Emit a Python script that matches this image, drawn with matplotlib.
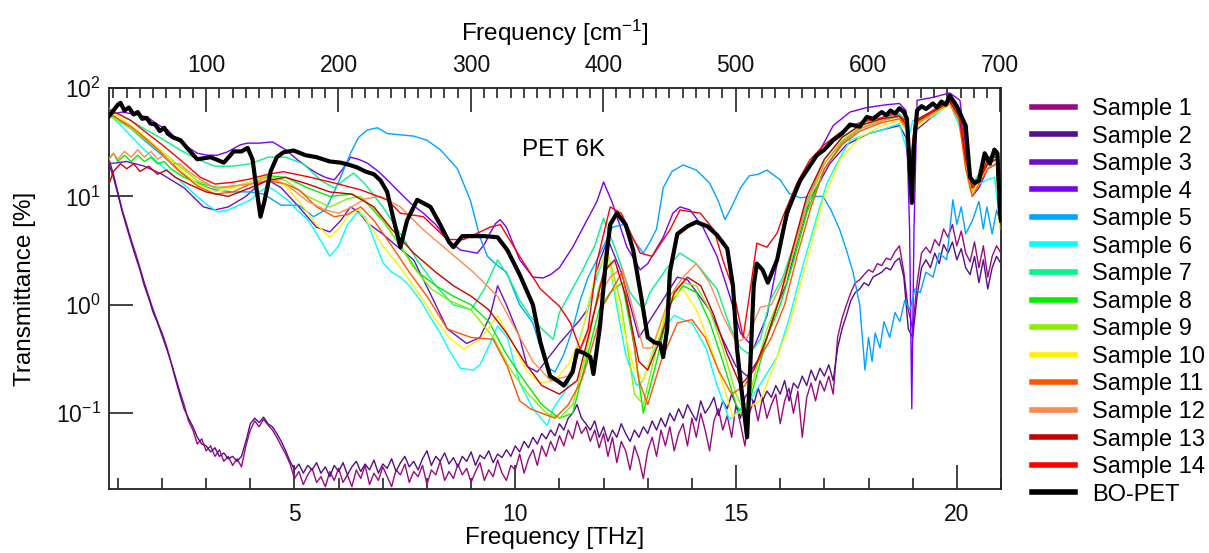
import numpy as np
import matplotlib
matplotlib.use("Agg")
import matplotlib.pyplot as plt
from matplotlib.ticker import FixedLocator, MultipleLocator, NullLocator, LogFormatterSciNotation

plt.rcParams['font.family'] = ['Liberation Sans', 'DejaVu Sans']
plt.rcParams['mathtext.fontset'] = 'custom'
plt.rcParams['mathtext.rm'] = 'Liberation Sans'
plt.rcParams['mathtext.it'] = 'Liberation Sans:italic'

# ---------------- data (frequency in THz, transmittance in %) ----------------
labels = ["Sample 1", "Sample 2", "Sample 3", "Sample 4", "Sample 5", "Sample 6",
          "Sample 7", "Sample 8", "Sample 9", "Sample 10", "Sample 11", "Sample 12",
          "Sample 13", "Sample 14", "BO-PET"]
colors = ["#9B0A7D", "#540E8E", "#6B11CB", "#7B00F2", "#00A5FF", "#00FFFF",
          "#00F58A", "#00EE00", "#88F000", "#FFF200", "#FF5500", "#FF8A50",
          "#C80000", "#FF0000", "#000000"]

# Samples 1 and 2: sampled every 0.1 THz starting at 0.8 THz
s1_t = [22, 16, 11, 7.5, 5.5, 4.0, 3.0, 2.2, 1.6, 1.2,
        0.9, 0.7, 0.55, 0.42, 0.3, 0.22, 0.16, 0.12, 0.085, 0.07,
        0.052, 0.058, 0.045, 0.05, 0.04, 0.046, 0.036, 0.04, 0.033, 0.038,
        0.032, 0.05, 0.07, 0.085, 0.075, 0.088, 0.078, 0.07, 0.06, 0.05,
        0.042, 0.034, 0.025, 0.029, 0.022, 0.027, 0.031, 0.023, 0.026, 0.021,
        0.029, 0.024, 0.031, 0.023, 0.027, 0.021, 0.03, 0.025, 0.033, 0.022,
        0.028, 0.024, 0.032, 0.026, 0.021, 0.03, 0.027, 0.034, 0.023, 0.029,
        0.026, 0.033, 0.022, 0.03, 0.027, 0.036, 0.024, 0.029, 0.025, 0.034,
        0.027, 0.031, 0.023, 0.029, 0.035, 0.024, 0.03, 0.026, 0.037, 0.028,
        0.024, 0.033, 0.03, 0.042, 0.028, 0.038, 0.046, 0.033, 0.05, 0.04,
        0.055, 0.045, 0.062, 0.05, 0.07, 0.058, 0.085, 0.065, 0.075, 0.055,
        0.07, 0.048, 0.065, 0.04, 0.06, 0.035, 0.055, 0.045, 0.03, 0.05,
        0.038, 0.025, 0.045, 0.06, 0.04, 0.07, 0.05, 0.075, 0.045, 0.065,
        0.08, 0.05, 0.09, 0.06, 0.1, 0.07, 0.045, 0.085, 0.11, 0.07,
        0.095, 0.06, 0.12, 0.08, 0.05, 0.1, 0.13, 0.085, 0.14, 0.09,
        0.12, 0.15, 0.08, 0.13, 0.17, 0.1, 0.16, 0.06, 0.14, 0.19,
        0.13, 0.2, 0.16, 0.22, 0.15, 0.5, 0.75, 1.0, 1.3, 1.6,
        1.7, 1.9, 2.1, 2.0, 2.4, 2.3, 2.7, 2.6, 3.1, 3.5,
        2.0, 0.9, 0.6, 1.6, 3.0, 3.4, 3.0, 4.0, 3.5, 5.0,
        4.2, 5.5, 3.5, 4.8, 3.0, 2.5, 3.8, 2.2, 3.5, 1.8,
        2.8, 3.5, 3.0]
s2_t = [20, 15, 10.5, 7.2, 5.2, 3.8, 2.8, 2.1, 1.5, 1.15,
        0.85, 0.68, 0.52, 0.4, 0.3, 0.21, 0.15, 0.11, 0.09, 0.075,
        0.06, 0.052, 0.05, 0.044, 0.048, 0.04, 0.043, 0.038, 0.04, 0.036,
        0.04, 0.055, 0.08, 0.09, 0.082, 0.092, 0.08, 0.075, 0.065, 0.055,
        0.045, 0.036, 0.03, 0.034, 0.028, 0.033, 0.03, 0.035, 0.028, 0.032,
        0.026, 0.033, 0.029, 0.035, 0.027, 0.032, 0.036, 0.029, 0.034, 0.03,
        0.037, 0.028, 0.034, 0.031, 0.038, 0.029, 0.035, 0.04, 0.032, 0.036,
        0.03, 0.038, 0.045, 0.033, 0.04, 0.036, 0.043, 0.034, 0.039, 0.032,
        0.04, 0.036, 0.044, 0.033, 0.041, 0.038, 0.045, 0.035, 0.042, 0.039,
        0.046, 0.04, 0.05, 0.044, 0.055, 0.048, 0.06, 0.052, 0.065, 0.058,
        0.07, 0.062, 0.08, 0.07, 0.09, 0.1, 0.12, 0.09, 0.08, 0.07,
        0.085, 0.06, 0.075, 0.055, 0.07, 0.06, 0.08, 0.065, 0.055, 0.07,
        0.06, 0.075, 0.065, 0.085, 0.07, 0.09, 0.075, 0.1, 0.085, 0.11,
        0.09, 0.12, 0.1, 0.085, 0.13, 0.1, 0.115, 0.14, 0.095, 0.13,
        0.11, 0.15, 0.12, 0.09, 0.14, 0.16, 0.12, 0.17, 0.13, 0.16,
        0.14, 0.18, 0.15, 0.2, 0.13, 0.19, 0.17, 0.22, 0.18, 0.25,
        0.2, 0.26, 0.22, 0.28, 0.2, 0.4, 0.6, 0.8, 1.1, 1.3,
        1.4, 1.6, 1.5, 1.8, 1.9, 2.0, 2.2, 2.1, 2.5, 2.7,
        1.8, 0.6, 0.5, 1.2, 2.2, 2.6, 2.2, 3.0, 2.4, 3.6,
        3.0, 3.8, 2.6, 3.3, 2.2, 1.9, 2.8, 1.6, 2.6, 1.4,
        2.2, 2.8, 2.4]

s3_f = [0.8, 1.2, 1.6, 2.0, 2.5, 2.94, 3.2, 3.5, 3.9, 4.2, 4.4, 4.7, 5.1, 5.5, 5.8, 6.05,
        6.27, 6.45, 6.65, 7.0, 7.24, 7.7, 8.15, 8.46, 8.9, 9.2, 9.43, 9.6, 9.8, 10.1, 10.27,
        10.5, 11.0, 11.47, 11.63, 11.92, 12.1, 12.4, 12.8, 13.2, 13.67, 13.9, 14.4, 14.7,
        15.0, 15.25, 15.55, 15.93, 16.15, 16.38, 16.67, 17.12, 17.5, 18.0, 18.4, 18.7,
        18.85, 18.95, 19.05, 19.46, 19.84, 20.1, 20.2, 20.35, 20.5, 20.7, 20.9, 20.97]
s3_t = [20, 21, 19, 16, 12, 8, 7.5, 8, 10, 13, 14.2, 12, 8, 5.2, 4.7, 6,
        8, 7.2, 5.7, 4.5, 3.7, 2.6, 1.1, 0.6, 0.44, 0.5, 0.79, 1.5, 1.0, 0.5, 0.27,
        0.24, 0.44, 0.73, 0.9, 2.6, 4.0, 2.0, 0.5, 0.9, 1.8, 1.7, 0.9, 0.48,
        0.27, 0.22, 0.33, 0.98, 1.6, 3.7, 9.3, 20, 30, 38, 42, 45,
        35, 10, 40, 55, 75, 50, 20, 10, 12, 18, 20, 6]

s4_f = [0.8, 0.9, 1.1, 1.4, 1.67, 1.9, 2.13, 2.35, 2.58, 2.8, 3.03, 3.25, 3.48, 3.78, 3.94,
        4.2, 4.5, 4.8, 5.07, 5.3, 5.5, 5.7, 5.9, 6.1, 6.27, 6.45, 6.65, 6.9, 7.1, 7.4, 7.65,
        7.92, 8.2, 8.46, 8.76, 9.14, 9.3, 9.43, 9.55, 9.66, 9.8, 10.1, 10.4, 10.63, 10.8,
        11.0, 11.3, 11.63, 11.85, 12.0, 12.2, 12.53, 12.83, 13.0, 13.35, 13.57, 13.73,
        13.96, 14.25, 14.57, 14.86, 15.1, 15.4, 15.7, 15.93, 16.06, 16.3, 16.6, 16.97,
        17.2, 17.58, 17.96, 18.4, 18.7, 18.85, 18.93, 18.98, 19.03, 19.1, 19.46, 19.84,
        20.07, 20.2, 20.36, 20.5, 20.68, 20.9, 20.97]
s4_t = [60, 58, 60, 57, 54, 46, 41, 33, 28.6, 25, 24, 24, 25.7, 30, 31,
        31, 31.8, 27, 21.7, 18.5, 16.4, 15, 14.2, 18, 23, 22, 20.3, 17, 14.2, 10.7, 8.5,
        7.0, 5.5, 4.0, 3.2, 3.0, 3.6, 4.6, 5.6, 6.1, 5.2, 2.6, 1.8, 1.77, 1.9,
        2.2, 3.4, 6.1, 9, 13.6, 8.7, 3.4, 2.1, 2.4, 4.2, 7.0, 8.0,
        7.5, 5.2, 2.8, 1.2, 0.55, 0.4, 0.79, 2.4, 4.6, 10, 17.5, 30,
        45, 60, 66, 70, 72, 62, 5, 0.11, 5, 77, 82, 90,
        77, 28.6, 12.2, 15, 23, 23, 6.1]

s5_f = [0.8, 1.0, 1.3, 1.6, 2.0, 2.4, 2.8, 3.2, 3.6, 4.0, 4.3, 4.7, 5.1, 5.43, 5.7, 5.9,
        6.1, 6.27, 6.45, 6.65, 6.88, 7.1, 7.4, 7.7, 8.0, 8.3, 8.5, 8.69, 8.98, 9.2, 9.37,
        9.6, 9.8, 10.1, 10.4, 10.7, 10.9, 11.1, 11.3, 11.47, 11.65, 11.85, 12.2, 12.45,
        12.67, 12.9, 13.05, 13.2, 13.35, 13.55, 13.8, 14.1, 14.4, 14.6, 14.75, 14.9, 15.1,
        15.3, 15.5, 15.7, 16.0, 16.2, 16.45, 16.74, 16.97, 17.15, 17.35, 17.5, 17.65, 17.8,
        17.92, 18.0, 18.08, 18.15, 18.26, 18.35, 18.48, 18.6, 18.71, 18.82, 18.94, 19.05,
        19.17, 19.3, 19.46, 19.6, 19.77, 19.91, 20.0, 20.1, 20.2, 20.36, 20.5, 20.6, 20.68,
        20.8, 20.9, 20.97]
s5_t = [60, 52, 42, 33, 24, 17, 13, 11.5, 11, 11, 10.5, 8.3, 8.3, 6.5, 7.5, 11,
        17, 25, 35, 41, 43, 38, 37, 36, 33, 27, 22, 18, 9.3, 4.2, 2.8,
        2.3, 2.0, 1.0, 0.68, 0.27, 0.24, 0.35, 0.6, 1.1, 1.8, 2.6, 5.2, 5.5,
        4.0, 3.0, 3.8, 5.0, 12, 17, 19.5, 17.5, 13.3, 9, 6.1, 8, 12,
        15.5, 16, 17.5, 14.2, 10.7, 9.7, 10, 10, 7.5, 4.9, 3.2, 2.0, 1.0,
        0.25, 0.5, 0.3, 0.55, 0.4, 0.7, 0.5, 0.85, 0.7, 1.1, 0.9, 1.4,
        1.3, 2.0, 1.8, 3.0, 2.6, 9.3, 5.5, 8.0, 4.5, 6.1, 9.0, 5.0, 8.0,
        4.5, 7.5, 6.0]

s6_f = [0.8, 1.0, 1.3, 1.6, 2.0, 2.4, 2.8, 3.0, 3.26, 3.5, 3.8, 4.0, 4.2, 4.4, 4.6, 4.84,
        5.1, 5.3, 5.55, 5.8, 6.0, 6.2, 6.42, 6.6, 6.8, 7.0, 7.2, 7.4, 7.6, 7.85, 8.05, 8.3,
        8.5, 8.76, 9.05, 9.2, 9.37, 9.6, 9.82, 10.1, 10.4, 10.72, 10.86, 11.17, 11.4, 11.63,
        11.85, 12.08, 12.3, 12.5, 12.75, 12.9, 13.1, 13.35, 13.6, 13.8, 14.0, 14.33, 14.55,
        14.85, 15.1, 15.3, 15.6, 15.93, 16.22, 16.5, 16.83, 17.05, 17.28, 17.58, 18.0, 18.3,
        18.7, 18.85, 19.0, 19.46, 19.84, 20.05, 20.15, 20.3, 20.5, 20.68, 20.85, 20.97]
s6_t = [58, 48, 36, 27, 19, 14, 10, 8.5, 7.2, 7.5, 8.5, 9.3, 11, 12.3, 11, 9.3,
        7.2, 6.1, 4.2, 2.8, 3.5, 5.5, 7.1, 6.5, 4, 2.45, 2.0, 1.8, 1.5, 1.1, 0.8, 0.55,
        0.38, 0.26, 0.25, 0.28, 0.39, 0.64, 0.5, 0.19, 0.11, 0.077, 0.11, 0.17, 0.4, 0.85,
        1.8, 3.4, 0.95, 0.35, 0.18, 0.2, 0.35, 0.6, 0.8, 0.73, 0.68, 0.39, 0.19,
        0.087, 0.11, 0.13, 0.2, 0.33, 0.79, 2.2, 6.5, 13, 20, 33, 38, 41,
        47, 28, 50, 54, 72, 45, 28.6, 11.5, 13, 14.2, 15, 6.1]

s7_f = [0.8, 1.0, 1.3, 1.6, 2.0, 2.4, 2.8, 3.2, 3.6, 4.0, 4.4, 4.8, 5.2, 5.6, 5.9, 6.2,
        6.34, 6.6, 7.0, 7.4, 7.8, 8.2, 8.6, 9.0, 9.3, 9.6, 9.85, 10.1, 10.34, 10.6, 10.86,
        11.0, 11.5, 11.8, 12.0, 12.3, 12.6, 12.9, 13.05, 13.44, 13.73, 14.1, 14.57, 14.86,
        15.1, 15.3, 15.55, 15.77, 16.06, 16.3, 16.6, 17.0, 17.4, 17.8, 18.3, 18.7, 18.87,
        18.95, 19.05, 19.5, 19.84, 20.05, 20.2, 20.35, 20.5, 20.7, 20.9, 20.97]
s7_t = [65, 58, 50, 42, 34, 27, 22, 19, 19, 20, 23, 23, 20, 14, 12, 15,
        16.4, 13, 8, 4.5, 2.5, 1.5, 1.0, 0.9, 1.4, 2.6, 1.8, 1.1, 0.78, 0.6, 0.48,
        0.85, 2.0, 3.5, 6.3, 3.0, 1.3, 0.9, 1.3, 2.2, 3.0, 2.4, 1.4, 0.63,
        0.4, 0.35, 0.48, 1.1, 1.8, 3.5, 9, 22, 35, 45, 52, 58, 48,
        16, 50, 63, 78, 55, 22, 13, 16, 23, 25, 7]

s8_f = [0.8, 0.9, 1.0, 1.15, 1.3, 1.45, 1.6, 1.75, 1.9, 2.05, 2.2, 2.5, 2.9, 3.3, 3.7, 4.0,
        4.4, 4.8, 5.3, 5.8, 6.3, 6.6, 7.0, 7.4, 7.8, 8.2, 8.6, 9.0, 9.4, 9.8, 10.2, 10.6,
        11.0, 11.3, 11.6, 11.9, 12.15, 12.42, 12.7, 12.9, 13.2, 13.5, 13.8, 14.1, 14.4,
        14.7, 15.0, 15.2, 15.5, 15.7, 16.0, 16.3, 16.6, 17.0, 17.4, 17.8, 18.3, 18.7,
        18.87, 18.95, 19.05, 19.5, 19.84, 20.05, 20.2, 20.35, 20.5, 20.7, 20.9, 20.97]
s8_t = [22, 25, 21, 24, 21, 24, 21, 23, 20, 21, 18, 15, 13, 12, 12.5, 13.5,
        15.5, 15, 12, 10, 10.5, 9, 6, 3.5, 2.0, 1.5, 1.2, 1.0, 0.7, 0.35, 0.2, 0.12,
        0.09, 0.1, 0.3, 0.9, 1.3, 1.6, 0.4, 0.1, 0.3, 1.0, 1.5, 1.3, 0.7,
        0.3, 0.12, 0.09, 0.25, 0.5, 1.0, 2.5, 7, 18, 31, 42, 50, 55,
        45, 14, 46, 60, 75, 55, 20, 12, 15, 22, 24, 6]

s9_f = [0.8, 1.0, 1.3, 1.6, 2.0, 2.4, 2.8, 3.2, 3.6, 4.0, 4.4, 4.8, 5.3, 5.8, 6.2, 6.5,
        6.9, 7.3, 7.7, 8.1, 8.5, 9.0, 9.5, 9.9, 10.3, 10.7, 11.0, 11.3, 11.6, 11.9, 12.15,
        12.4, 12.7, 12.9, 13.2, 13.5, 13.8, 14.1, 14.4, 14.7, 15.0, 15.2, 15.5, 15.7, 16.0,
        16.3, 16.6, 17.0, 17.4, 17.8, 18.3, 18.7, 18.87, 18.95, 19.05, 19.5, 19.84, 20.05,
        20.2, 20.35, 20.5, 20.7, 20.9, 20.97]
s9_t = [55, 50, 42, 34, 26, 19, 14, 12, 12, 13.5, 15.5, 14, 10, 8, 9.5, 10,
        7, 4, 2.2, 1.4, 1.1, 0.9, 0.5, 0.25, 0.15, 0.1, 0.09, 0.12, 0.35, 1.5, 2.5,
        1.0, 0.15, 0.12, 0.4, 1.1, 1.6, 1.5, 0.9, 0.4, 0.15, 0.1, 0.3, 0.6, 1.2,
        3.0, 8, 20, 33, 43, 50, 55, 45, 14, 45, 60, 72, 52,
        20, 11, 14, 20, 22, 6]

s10_f = [0.8, 1.0, 1.3, 1.6, 2.0, 2.4, 2.8, 3.2, 3.6, 4.0, 4.4, 4.8, 5.2, 5.5, 5.8, 6.0,
         6.27, 6.45, 6.7, 7.0, 7.4, 7.8, 8.15, 8.5, 8.83, 9.2, 9.6, 9.82, 10.27, 10.57,
         10.9, 11.2, 11.47, 11.8, 12.08, 12.38, 12.7, 12.9, 13.2, 13.5, 13.8, 14.1, 14.4,
         14.6, 14.93, 15.2, 15.55, 15.93, 16.22, 16.67, 16.97, 17.35, 17.8, 18.3, 18.7,
         18.87, 18.95, 19.05, 19.5, 19.84, 20.05, 20.2, 20.35, 20.5, 20.7, 20.9, 20.97]
s10_t = [60, 55, 45, 36, 26, 18, 13, 11, 12, 13.5, 15, 12.5, 8, 5.5, 4.2, 5,
         7.1, 7.5, 5.5, 3.5, 2.2, 1.3, 0.78, 0.5, 0.39, 0.48, 0.79, 0.55, 0.24, 0.19,
         0.2, 0.28, 0.48, 1.8, 3.2, 0.78, 0.25, 0.2, 0.5, 1.1, 1.4, 0.9, 0.44,
         0.25, 0.093, 0.11, 0.13, 0.33, 0.68, 3.2, 9.3, 21.7, 35, 45, 50,
         40, 12, 42, 58, 70, 50, 18, 10, 14, 18, 20, 5]

s11_f = [0.8, 1.0, 1.3, 1.6, 2.0, 2.4, 2.8, 3.2, 3.6, 4.0, 4.4, 4.8, 5.1, 5.5, 5.9, 6.2,
         6.5, 6.8, 7.2, 7.6, 8.0, 8.46, 9.0, 9.5, 9.82, 10.1, 10.34, 10.6, 10.9, 11.2, 11.5,
         11.8, 12.0, 12.42, 12.6, 12.8, 13.0, 13.3, 13.67, 14.0, 14.3, 14.6, 14.9, 15.2,
         15.5, 15.8, 16.1, 16.4, 16.7, 17.0, 17.4, 17.8, 18.3, 18.7, 18.87, 18.95, 19.05,
         19.5, 19.84, 20.05, 20.2, 20.35, 20.5, 20.7, 20.9, 20.97]
s11_t = [58, 52, 44, 35, 25, 17, 12.5, 10.5, 11, 13, 14, 13, 11.5, 8, 6.5, 6.8,
         8, 6, 3.5, 2, 1.2, 0.6, 0.5, 0.48, 0.27, 0.13, 0.11, 0.1, 0.09, 0.12, 0.2,
         0.5, 1.0, 2.0, 0.8, 0.2, 0.12, 0.3, 0.68, 0.73, 0.5, 0.25, 0.15, 0.18,
         0.3, 0.5, 1.0, 3.0, 8, 18, 30, 40, 48, 52, 42, 12, 45,
         60, 72, 50, 18, 10, 13, 18, 20, 6]

s12_f = [0.8, 0.9, 1.0, 1.15, 1.3, 1.45, 1.6, 1.75, 1.9, 2.05, 2.2, 2.4, 2.6, 2.9, 3.2, 3.6,
         4.0, 4.4, 4.8, 5.3, 5.7, 6.0, 6.3, 6.6, 6.95, 7.4, 7.9, 8.46, 9.05, 9.6, 10.0, 10.4,
         10.8, 11.2, 11.6, 11.9, 12.15, 12.42, 12.7, 12.9, 13.1, 13.5, 13.8, 14.1, 14.4,
         14.7, 15.0, 15.25, 15.55, 15.8, 16.1, 16.4, 16.7, 17.0, 17.4, 17.8, 18.3, 18.7,
         18.87, 18.95, 19.05, 19.5, 19.84, 20.05, 20.2, 20.35, 20.5, 20.7, 20.9, 20.97]
s12_t = [22, 25, 22, 26, 23, 27, 23, 26, 22, 24, 20, 20, 17, 14, 12, 12.5,
         13, 15, 13, 9, 7.5, 7, 8, 9.5, 10, 8, 5, 3.2, 2.0, 1.2, 0.6, 0.3,
         0.2, 0.22, 0.5, 1.2, 1.8, 2.2, 0.8, 0.4, 0.4, 1.2, 1.8, 2.4, 1.6,
         0.8, 0.45, 0.5, 0.95, 1.0, 1.8, 4.5, 11, 20, 32, 42, 50, 55,
         45, 15, 45, 60, 72, 55, 22, 12, 15, 22, 22, 6]

s13_f = [0.8, 0.9, 1.06, 1.2, 1.36, 1.5, 1.7, 1.9, 2.1, 2.3, 2.6, 3.0, 3.5, 4.0, 4.4, 4.8,
         5.3, 5.8, 6.3, 6.8, 7.2, 7.7, 8.2, 8.6, 9.0, 9.4, 9.8, 10.2, 10.6, 11.0, 11.4, 11.7,
         12.0, 12.25, 12.5, 12.8, 13.0, 13.3, 13.6, 13.9, 14.2, 14.5, 14.8, 15.1, 15.4,
         15.7, 16.0, 16.3, 16.6, 17.0, 17.4, 17.8, 18.3, 18.7, 18.87, 18.95, 19.05, 19.5,
         19.84, 20.05, 20.2, 20.35, 20.5, 20.7, 20.9, 20.97]
s13_t = [13, 17, 20, 18, 20, 17, 19, 16, 17.5, 15, 13, 11, 10, 12, 14, 15,
         13, 11, 10.5, 8, 5, 3, 2, 1.5, 1.2, 0.9, 0.55, 0.3, 0.18, 0.15, 0.2, 0.6,
         2.0, 2.6, 1.2, 0.3, 0.25, 0.5, 1.3, 1.8, 1.5, 0.8, 0.35, 0.18, 0.25,
         0.5, 1.2, 3.5, 10, 22, 35, 45, 52, 55, 45, 15, 48, 62,
         75, 55, 22, 12, 14, 20, 22, 6]

s14_f = [0.8, 1.0, 1.3, 1.6, 2.0, 2.4, 2.87, 3.2, 3.6, 4.0, 4.4, 4.75, 5.3, 5.9, 6.5, 7.1,
         7.4, 7.92, 8.46, 8.83, 9.2, 9.43, 9.66, 10.1, 10.57, 11.0, 11.25, 11.47, 11.65,
         11.85, 12.15, 12.4, 12.83, 13.1, 13.5, 13.73, 14.19, 14.5, 14.7, 14.93, 15.16, 15.3,
         15.47, 15.7, 15.93, 16.06, 16.38, 16.67, 17.0, 17.4, 17.8, 18.2, 18.6, 18.85,
         18.95, 19.05, 19.4, 19.84, 20.05, 20.2, 20.35, 20.5, 20.7, 20.9, 20.97]
s14_t = [62, 58, 50, 40, 30, 22, 15, 13, 13.5, 14.5, 16, 16.9, 15.2, 13.3, 11.5, 9.3,
         7.0, 6.5, 4.0, 4.0, 4.7, 5.2, 5.5, 2.8, 1.4, 0.97, 0.68, 0.39, 0.6,
         2.5, 8.0, 7.0, 3.0, 2.8, 4.9, 7.5, 7.0, 4.9, 2.6, 1.4, 0.5, 1.2,
         3.7, 3.4, 4.6, 6.5, 13.3, 21.7, 30, 40, 48, 52, 58, 50,
         20, 50, 60, 78, 60, 25, 12, 14, 22, 25, 7]

bo_f = [0.8, 0.9, 1.0, 1.06, 1.15, 1.25, 1.36, 1.45, 1.55, 1.65, 1.74, 1.85, 1.95, 2.05,
        2.13, 2.25, 2.42, 2.6, 2.8, 3.1, 3.4, 3.55, 3.62, 3.8, 3.94, 4.05, 4.15, 4.23, 4.32,
        4.46, 4.6, 4.75, 4.98, 5.25, 5.5, 5.8, 6.04, 6.25, 6.42, 6.6, 6.8, 6.95, 7.1, 7.25,
        7.4, 7.55, 7.78, 8.08, 8.3, 8.5, 8.6, 8.8, 9.0, 9.3, 9.6, 9.82, 10.1, 10.4, 10.57,
        10.79, 10.95, 11.1, 11.3, 11.4, 11.55, 11.7, 11.77, 11.92, 12.05, 12.15, 12.3, 12.5,
        12.67, 12.85, 13.0, 13.15, 13.28, 13.35, 13.44, 13.5, 13.67, 13.9, 14.1, 14.35,
        14.57, 14.8, 14.93, 15.02, 15.1, 15.25, 15.3, 15.4, 15.47, 15.6, 15.72, 15.93,
        16.15, 16.45, 16.83, 17.0, 17.2, 17.4, 17.58, 17.8, 17.96, 18.1, 18.3, 18.4, 18.5,
        18.6, 18.7, 18.8, 18.87, 18.93, 18.98, 19.03, 19.1, 19.2, 19.3, 19.46, 19.55, 19.65,
        19.75, 19.84, 19.92, 20.0, 20.1, 20.2, 20.3, 20.4, 20.5, 20.63, 20.75, 20.85, 20.92,
        20.97, 21.0]
bo_t = [55, 62, 70, 73, 62, 66, 57, 60, 52, 53, 47, 46, 40, 43,
        38, 35, 33, 27, 22, 23, 20.5, 24, 26, 26, 28, 22, 11, 6.5, 9,
        17, 23, 25.5, 26.5, 24, 23, 21, 20.5, 19.5, 18.5, 17, 16, 14, 11, 6,
        3.4, 6, 9.3, 8, 5.5, 3.8, 3.4, 4.3, 4.3, 4.3, 4.2, 3.2, 1.9, 1.0, 0.45,
        0.22, 0.2, 0.18, 0.24, 0.38, 0.36, 0.33, 0.23, 0.64, 2.5, 5.5, 7.0, 5.5,
        3.2, 1.2, 0.5, 0.45, 0.44, 0.33, 0.6, 2.0, 4.5, 5.3, 5.8, 5.3,
        4.4, 3.3, 1.5, 0.4, 0.2, 0.06, 0.17, 1.5, 2.4, 2.1, 1.6, 2.6,
        7.0, 14, 24, 27, 33, 38, 46, 44, 54, 52, 60, 56, 62,
        58, 65, 60, 52, 20, 8.7, 30, 62, 68, 64, 72, 66, 75,
        70, 85, 76, 68, 55, 45, 15, 13.3, 14, 25, 20, 27, 25,
        8, 6]

freq1 = 0.8 + 0.1 * np.arange(len(s1_t))
freq2 = 0.8 + 0.1 * np.arange(len(s2_t))
series = [(freq1, s1_t), (freq2, s2_t), (s3_f, s3_t), (s4_f, s4_t), (s5_f, s5_t),
          (s6_f, s6_t), (s7_f, s7_t), (s8_f, s8_t), (s9_f, s9_t), (s10_f, s10_t),
          (s11_f, s11_t), (s12_f, s12_t), (s13_f, s13_t), (s14_f, s14_t), (bo_f, bo_t)]

top_ticks = [100, 200, 300, 400, 500, 600, 700]
bottom_ticks = [5, 10, 15, 20]
y_ticks = [0.1, 1, 10, 100]

# ---------------- figure ----------------
fig = plt.figure(figsize=(12.09, 5.53), dpi=100)
ax = fig.add_axes([109 / 1209, 1 - 489 / 553, (1001 - 109) / 1209, (489 - 88) / 553])

for i, ((f, t), lab, c) in enumerate(zip(series, labels, colors)):
    lw = 3.0 if lab == "BO-PET" else 1.0
    ax.plot(f, t, color=c, lw=lw, label=lab, zorder=3 + i * 0.01, solid_joinstyle='round')

ax.set_yscale('log')
ax.set_xlim(0.8, 21.0)
ax.set_ylim(0.02, 100)

TICK_FS = 16.5
LAB_FS = 17.5
ax.xaxis.set_major_locator(FixedLocator(bottom_ticks))
ax.xaxis.set_minor_locator(MultipleLocator(1))
ax.yaxis.set_major_locator(FixedLocator(y_ticks))
ax.yaxis.set_major_formatter(LogFormatterSciNotation())
ax.yaxis.set_minor_locator(NullLocator())
ax.tick_params(axis='x', which='major', direction='in', length=17, width=1.2, top=False,
               labelsize=TICK_FS, pad=10, colors='#222222', labelcolor='#111111')
ax.tick_params(axis='x', which='minor', direction='in', length=8, width=1.2, top=False,
               colors='#222222')
ax.tick_params(axis='y', which='major', direction='in', length=17, width=1.2, right=False,
               labelsize=TICK_FS, pad=6, colors='#222222', labelcolor='#111111')
for s in ax.spines.values():
    s.set_linewidth(1.3)
    s.set_color('#222222')

ax.set_xlabel('Frequency [THz]', fontsize=LAB_FS, labelpad=1)
ax.set_ylabel('Transmittance [%]', fontsize=LAB_FS, labelpad=14)

thz_per_cm = 0.0299792458
sec = ax.secondary_xaxis('top', functions=(lambda x: x / thz_per_cm, lambda w: w * thz_per_cm))
sec.xaxis.set_major_locator(FixedLocator(top_ticks))
sec.xaxis.set_minor_locator(MultipleLocator(10))
sec.tick_params(axis='x', which='major', direction='in', length=17, width=1.2,
                labelsize=TICK_FS, pad=8, colors='#222222', labelcolor='#111111')
sec.tick_params(axis='x', which='minor', direction='in', length=7, width=1.2, colors='#222222')
sec.spines['top'].set_visible(False)
sec.set_xlabel('Frequency [cm$^{-1}$]', fontsize=LAB_FS, labelpad=9)

ax.text(11.1, 27, 'PET 6K', fontsize=LAB_FS, ha='center', va='center')

leg = fig.legend(loc='upper left', bbox_to_anchor=(1032 / 1209, 1 - 98 / 553),
                 bbox_transform=fig.transFigure, frameon=False, fontsize=17,
                 handlelength=1.8, handletextpad=0.75, labelspacing=0.235,
                 borderaxespad=0, borderpad=0)
for ln in leg.get_lines():
    ln.set_linewidth(4)

fig.savefig('out.png', dpi=100)
